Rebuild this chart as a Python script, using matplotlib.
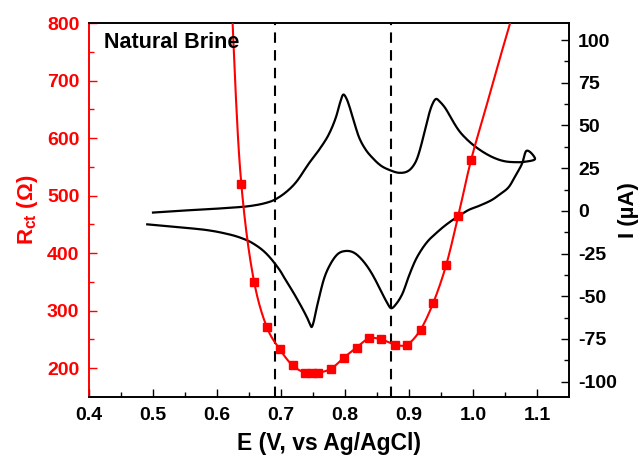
import numpy as np
import matplotlib
matplotlib.use("Agg")
import matplotlib.pyplot as plt

plt.rcParams['font.family'] = ['Liberation Sans', 'DejaVu Sans']
plt.rcParams['font.weight'] = 'bold'
plt.rcParams['axes.unicode_minus'] = False
plt.rcParams['mathtext.fontset'] = 'custom'
plt.rcParams['mathtext.rm'] = 'Liberation Sans:bold'
plt.rcParams['mathtext.it'] = 'Liberation Sans:bold'
plt.rcParams['mathtext.bf'] = 'Liberation Sans:bold'

# ---- Data ----
# Charge-transfer resistance (left axis)
rct_E = [0.638, 0.658, 0.678, 0.698, 0.718, 0.738, 0.748, 0.758, 0.778, 0.798,
         0.818, 0.838, 0.857, 0.878, 0.897, 0.918, 0.938, 0.958, 0.977, 0.997]
rct_R = [520, 350, 271, 233, 205, 192, 191, 192, 199, 218,
         236, 252, 250, 241, 241, 267, 314, 379, 465, 562]
# fitted-curve extension beyond the measured points (line only)
rct_line_E_left = [0.620]
rct_line_R_left = [905]
rct_line_E_right = [1.020, 1.040, 1.062]
rct_line_R_right = [652, 731, 815]

# Cyclic voltammogram (right axis)
cv_E = [0.500, 0.540, 0.583, 0.620, 0.651, 0.675, 0.690, 0.708, 0.724, 0.744,
        0.760, 0.775, 0.786, 0.792, 0.797, 0.802, 0.807, 0.815, 0.822, 0.832,
        0.843, 0.856, 0.869, 0.884, 0.897, 0.905, 0.912, 0.918, 0.924, 0.930,
        0.936, 0.942, 0.948, 0.957, 0.967, 0.978, 0.990, 1.004, 1.020, 1.035,
        1.050, 1.066, 1.080, 1.097, 1.083,
        1.077, 1.067, 1.056, 1.043, 1.030, 1.010, 0.993, 0.980, 0.968, 0.955,
        0.942, 0.930, 0.920, 0.910, 0.900, 0.890, 0.880, 0.872, 0.866, 0.853,
        0.840, 0.827, 0.814, 0.801, 0.788, 0.775, 0.767, 0.760, 0.755, 0.751,
        0.748, 0.746, 0.742, 0.736, 0.728, 0.718, 0.708, 0.698, 0.677, 0.656,
        0.635, 0.610, 0.583, 0.531, 0.491]
cv_I = [-1.0, 0.0, 0.9, 1.8, 2.8, 4.5, 6.5, 11, 17, 28,
        36, 45, 55, 63, 68, 66, 61, 51, 43, 36,
        31, 26.5, 24, 22.3, 23, 25.5, 30, 37, 46, 55,
        62, 65.5, 64, 60, 53.5, 47, 42, 37.5, 33.5, 30.7,
        29, 28.5, 28.7, 30.5, 35,
        28, 21, 14, 10, 6.5, 3, 0.5, -2.5, -5.4, -9,
        -13.2, -17.5, -22.5, -29, -38, -48.3, -54.5, -57, -54, -44.4,
        -35.5, -28.8, -24.5, -23.5, -25.5, -32.7, -40, -50, -58, -65,
        -68, -67, -63.5, -59, -53.5, -47, -41, -34.7, -25, -19,
        -15.5, -13, -11.2, -9.3, -7.9]

vlines_E = [0.69, 0.872]


def catmull_rom(x, y, n=10, alpha=0.5):
    p = np.column_stack([x, y]).astype(float)
    p = np.vstack([2 * p[0] - p[1], p, 2 * p[-1] - p[-2]])
    q = p * np.array([6420.0, 1.708])
    out = []
    for i in range(1, len(p) - 2):
        P = q[i - 1:i + 3]
        d = np.linalg.norm(np.diff(P, axis=0), axis=1) ** alpha
        d[d < 1e-6] = 1e-6
        t0, t1 = 0.0, d[0]
        t2 = t1 + d[1]
        t3 = t2 + d[2]
        t = np.linspace(t1, t2, n, endpoint=False)[:, None]
        A1 = (t1 - t) / (t1 - t0) * P[0] + (t - t0) / (t1 - t0) * P[1]
        A2 = (t2 - t) / (t2 - t1) * P[1] + (t - t1) / (t2 - t1) * P[2]
        A3 = (t3 - t) / (t3 - t2) * P[2] + (t - t2) / (t3 - t2) * P[3]
        B1 = (t2 - t) / (t2 - t0) * A1 + (t - t0) / (t2 - t0) * A2
        B2 = (t3 - t) / (t3 - t1) * A2 + (t - t1) / (t3 - t1) * A3
        C = (t2 - t) / (t2 - t1) * B1 + (t - t1) / (t2 - t1) * B2
        out.append(C)
    out.append(q[-2][None, :])
    out = np.vstack(out) / np.array([6420.0, 1.708])
    return out[:, 0], out[:, 1]


fig = plt.figure(figsize=(6.44, 4.59), dpi=100)
ax = fig.add_axes([89 / 644, 1 - 397 / 459, (569 - 89) / 644, (397 - 23) / 459])
ax2 = ax.twinx()

red = '#ff0000'

# Rct curve
lx = rct_line_E_left + rct_E + rct_line_E_right
ly = rct_line_R_left + rct_R + rct_line_R_right
sx, sy = catmull_rom(lx, np.array(ly) / 1.35, 12)
ax.plot(sx, sy * 1.35, color=red, lw=1.5, zorder=3)
ax.plot(rct_E, rct_R, ls='none', marker='s', ms=6, color=red, zorder=4)

ax.set_xlim(0.4, 1.15)
ax.set_ylim(150, 800)
ax.set_xticks(np.arange(0.4, 1.11, 0.1))
ax.set_xticks(np.arange(0.45, 1.15, 0.1), minor=True)
ax.set_yticks(np.arange(200, 801, 100))
ax.set_yticks(np.arange(250, 800, 100), minor=True)
ax.set_xticklabels([f"{v:.1f}" for v in np.arange(0.4, 1.11, 0.1)])

# CV curve
cx, cy = catmull_rom(cv_E, cv_I, 10)
ax2.plot(cx, cy, color='black', lw=1.6, zorder=2)
ax2.set_ylim(-109, 110)
ax2.set_yticks(np.arange(-100, 101, 25))
ax2.set_yticks(np.arange(-87.5, 100, 25), minor=True)

for v in vlines_E:
    ax.axvline(v, color='black', ls=(0, (5, 3.5)), lw=1.5, zorder=2)

# styling
ax.tick_params(axis='y', which='both', direction='in', colors=red, labelsize=14, pad=7)
ax.tick_params(axis='y', which='major', length=6, width=1)
ax.tick_params(axis='y', which='minor', length=3.5, width=1)
ax.tick_params(axis='x', which='both', direction='in', colors='black', labelsize=14, pad=7, top=False)
ax.tick_params(axis='x', which='major', length=6, width=1)
ax.tick_params(axis='x', which='minor', length=3.5, width=1)
ax2.tick_params(axis='y', which='both', direction='in', labelsize=14, pad=6.5)
ax2.tick_params(axis='y', which='major', length=6, width=1)
ax2.tick_params(axis='y', which='minor', length=3.5, width=1)

for a in (ax, ax2):
    for s in a.spines.values():
        s.set_linewidth(1.2)
ax2.spines['left'].set_color(red)
ax.spines['left'].set_color(red)

for lab in ax.get_xticklabels() + ax.get_yticklabels() + ax2.get_yticklabels():
    lab.set_fontweight('bold')

ax.set_xlabel('E (V, vs Ag/AgCl)', fontsize=16.5, fontweight='bold', labelpad=6)
ax.set_ylabel(r'R$_{\mathrm{ct}}$ (Ω)', fontsize=16, fontweight='bold', color=red, labelpad=5)
ax2.set_ylabel('I (µA)', fontsize=16, fontweight='bold', labelpad=1)

ax.text(0.032, 0.975, 'Natural Brine', transform=ax.transAxes, fontsize=15.5,
        fontweight='bold', ha='left', va='top')

ax.set_zorder(ax2.get_zorder() + 1)
ax.patch.set_visible(False)

fig.savefig('out.png', dpi=100)
